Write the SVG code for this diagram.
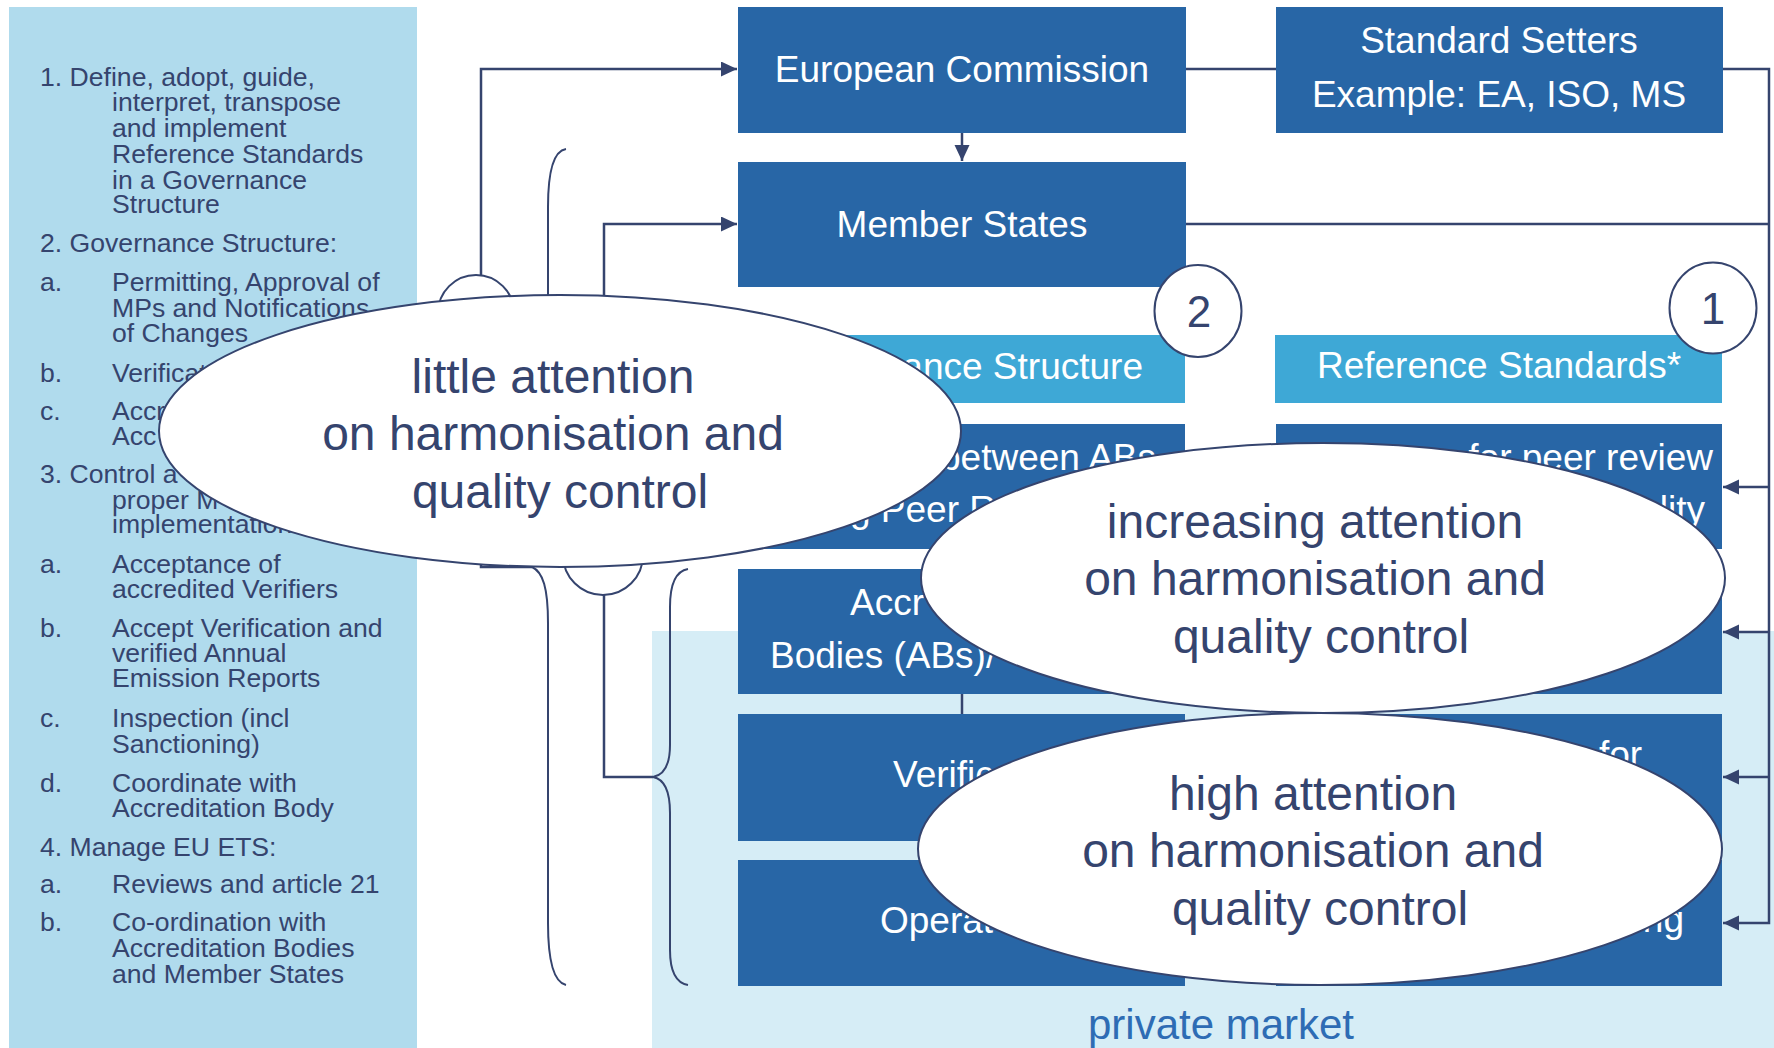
<svg xmlns="http://www.w3.org/2000/svg" width="1774" height="1048" viewBox="0 0 1774 1048">
<defs>
<style>
text{font-family:"Liberation Sans",Arial,sans-serif}
.panel{fill:#B0DBED}
.priv{fill:#D6EDF6}
.box{fill:#2866A6}
.hdr{fill:#3EA8D6}
.bt{fill:#FFFFFF;font-size:37px}
.lt{fill:#35446E;font-size:26.6px}
.et{fill:#35446E;font-size:48px;text-anchor:middle}
.ell{fill:#FFFFFF;stroke:#35446E;stroke-width:2}
.conn{fill:none;stroke:#35446E;stroke-width:2.5}
.brace{fill:none;stroke:#35446E;stroke-width:2}
.num{fill:#35446E;font-size:44px;text-anchor:middle}
</style>
<marker id="ah" markerUnits="userSpaceOnUse" markerWidth="17" markerHeight="16" refX="16" refY="7.5" orient="auto">
<path d="M0,0 L16,7.5 L0,15 z" fill="#35446E"/>
</marker>
</defs>
<rect x="0" y="0" width="1774" height="1048" fill="#FFFFFF"/>
<g id="left-panel">
<rect class="panel" x="9" y="7" width="408" height="1041"/>
<text class="lt" x="40" y="86">1. Define, adopt, guide,</text>
<text class="lt" x="112" y="111">interpret, transpose</text>
<text class="lt" x="112" y="137">and implement</text>
<text class="lt" x="112" y="163">Reference Standards</text>
<text class="lt" x="112" y="189">in a Governance</text>
<text class="lt" x="112" y="213">Structure</text>
<text class="lt" x="40" y="252">2. Governance Structure:</text>
<text class="lt" x="40" y="291">a.</text>
<text class="lt" x="112" y="291">Permitting, Approval of</text>
<text class="lt" x="112" y="317">MPs and Notifications</text>
<text class="lt" x="112" y="342">of Changes</text>
<text class="lt" x="40" y="382">b.</text>
<text class="lt" x="112" y="382">Verificat</text>
<text class="lt" x="40" y="420">c.</text>
<text class="lt" x="112" y="420">Accr</text>
<text class="lt" x="112" y="445">Acc</text>
<text class="lt" x="40" y="483">3. Control a</text>
<text class="lt" x="112" y="509">proper M</text>
<text class="lt" x="112" y="533">implementation</text>
<text class="lt" x="40" y="573">a.</text>
<text class="lt" x="112" y="573">Acceptance of</text>
<text class="lt" x="112" y="598">accredited Verifiers</text>
<text class="lt" x="40" y="637">b.</text>
<text class="lt" x="112" y="637">Accept Verification and</text>
<text class="lt" x="112" y="662">verified Annual</text>
<text class="lt" x="112" y="687">Emission Reports</text>
<text class="lt" x="40" y="727">c.</text>
<text class="lt" x="112" y="727">Inspection (incl</text>
<text class="lt" x="112" y="753">Sanctioning)</text>
<text class="lt" x="40" y="792">d.</text>
<text class="lt" x="112" y="792">Coordinate with</text>
<text class="lt" x="112" y="817">Accreditation Body</text>
<text class="lt" x="40" y="856">4. Manage EU ETS:</text>
<text class="lt" x="40" y="893">a.</text>
<text class="lt" x="112" y="893">Reviews and article 21</text>
<text class="lt" x="40" y="931">b.</text>
<text class="lt" x="112" y="931">Co-ordination with</text>
<text class="lt" x="112" y="957">Accreditation Bodies</text>
<text class="lt" x="112" y="983">and Member States</text>
</g>
<g id="private-market">
<rect class="priv" x="652" y="631" width="1122" height="417"/>
<text x="1221" y="1039" font-size="42" fill="#2E6CB4" text-anchor="middle">private market</text>
</g>
<g id="european-commission">
<rect class="box" x="738" y="7" width="448" height="126"/>
<text class="bt" x="962" y="82" text-anchor="middle">European Commission</text>
</g>
<g id="standard-setters">
<rect class="box" x="1276" y="7" width="447" height="126"/>
<text class="bt" x="1499" y="53" text-anchor="middle">Standard Setters</text>
<text class="bt" x="1499" y="107" text-anchor="middle">Example: EA, ISO, MS</text>
</g>
<g id="member-states">
<rect class="box" x="738" y="162" width="448" height="125"/>
<text class="bt" x="962" y="237" text-anchor="middle">Member States</text>
</g>
<g id="governance-structure">
<rect class="hdr" x="738" y="335" width="447" height="68"/>
<text class="bt" x="962" y="379" text-anchor="middle">Governance Structure</text>
</g>
<g id="reference-standards">
<rect class="hdr" x="1275" y="335" width="447" height="68"/>
<text class="bt" x="1499" y="378" text-anchor="middle">Reference Standards*</text>
</g>
<g id="ab-cooperation">
<rect class="box" x="738" y="424" width="447" height="125"/>
<text class="bt" x="940" y="470">between ABs</text>
<text class="bt" x="850" y="522">g Peer R</text>
</g>
<g id="peer-review-standards">
<rect class="box" x="1276" y="424" width="446" height="125"/>
<text class="bt" x="1713" y="470" text-anchor="end">for peer review</text>
<text class="bt" x="1705" y="522" text-anchor="end">lity</text>
</g>
<g id="accreditation-bodies">
<rect class="box" x="738" y="569" width="447" height="125"/>
<text class="bt" x="850" y="615">Accr</text>
<text class="bt" x="770" y="668">Bodies (ABs)/</text>
</g>
<g id="accreditation-standards">
<rect class="box" x="1276" y="569" width="446" height="125"/>
</g>
<g id="verifiers">
<rect class="box" x="738" y="714" width="447" height="127"/>
<text class="bt" x="893" y="787">Verific</text>
</g>
<g id="verification-standards">
<rect class="box" x="1276" y="714" width="446" height="127"/>
<text class="bt" x="1599" y="767">for</text>
</g>
<g id="operators">
<rect class="box" x="738" y="860" width="447" height="126"/>
<text class="bt" x="880" y="933">Operat</text>
</g>
<g id="monitoring-standards">
<rect class="box" x="1276" y="860" width="446" height="126"/>
<text class="bt" x="1684" y="932" text-anchor="end">ng</text>
</g>
<g id="connectors">
<path class="conn" d="M532,567 L481,567 L481,69 L737,69" marker-end="url(#ah)"/>
<path class="conn" d="M653,777 L604,777 L604,224 L737,224" marker-end="url(#ah)"/>
<path class="conn" d="M962,133 L962,161" marker-end="url(#ah)"/>
<path class="conn" d="M1186,69 L1276,69"/>
<path class="conn" d="M1186,224 L1769,224"/>
<path class="conn" d="M1723,69 L1769,69 L1769,923 L1723,923" marker-end="url(#ah)"/>
<path class="conn" d="M1769,487 L1723,487" marker-end="url(#ah)"/>
<path class="conn" d="M1769,632 L1723,632" marker-end="url(#ah)"/>
<path class="conn" d="M1769,777 L1723,777" marker-end="url(#ah)"/>
<path class="conn" d="M962,694 L962,714" stroke-width="2"/>
<path class="brace" d="M566,149 C553,151 548,172 548,207 L548,515 C548,548 543,562 532,567 C543,572 548,588 548,623 L548,923 C548,960 553,982 566,985"/>
<path class="brace" d="M688,569 C676,571 670,584 670,607 L670,745 C670,766 664,775 653,777 C664,779 670,790 670,813 L670,950 C670,972 676,983 688,985"/>
</g>
<g id="hidden-nodes">
<circle cx="476" cy="313" r="38" fill="#FFFFFF" stroke="#35446E" stroke-width="2"/>
<circle cx="603" cy="555" r="40" fill="#FFFFFF" stroke="#35446E" stroke-width="2"/>
</g>
<g id="badge-2">
<ellipse class="ell" cx="1198" cy="311" rx="43.5" ry="46"/>
<text class="num" x="1199" y="327">2</text>
</g>
<g id="badge-1">
<ellipse class="ell" cx="1713" cy="308" rx="43.5" ry="45.5"/>
<text class="num" x="1713" y="324">1</text>
</g>
<g id="little-attention">
<ellipse class="ell" cx="560" cy="431" rx="401" ry="136"/>
<text class="et" x="553" y="393">little attention</text>
<text class="et" x="553" y="450">on harmonisation and</text>
<text class="et" x="560" y="508">quality control</text>
</g>
<g id="increasing-attention">
<ellipse class="ell" cx="1323" cy="578" rx="402" ry="135"/>
<text class="et" x="1315" y="538">increasing attention</text>
<text class="et" x="1315" y="595">on harmonisation and</text>
<text class="et" x="1321" y="653">quality control</text>
</g>
<g id="high-attention">
<ellipse class="ell" cx="1320" cy="849" rx="402" ry="136"/>
<text class="et" x="1313" y="810">high attention</text>
<text class="et" x="1313" y="867">on harmonisation and</text>
<text class="et" x="1320" y="925">quality control</text>
</g>
</svg>
